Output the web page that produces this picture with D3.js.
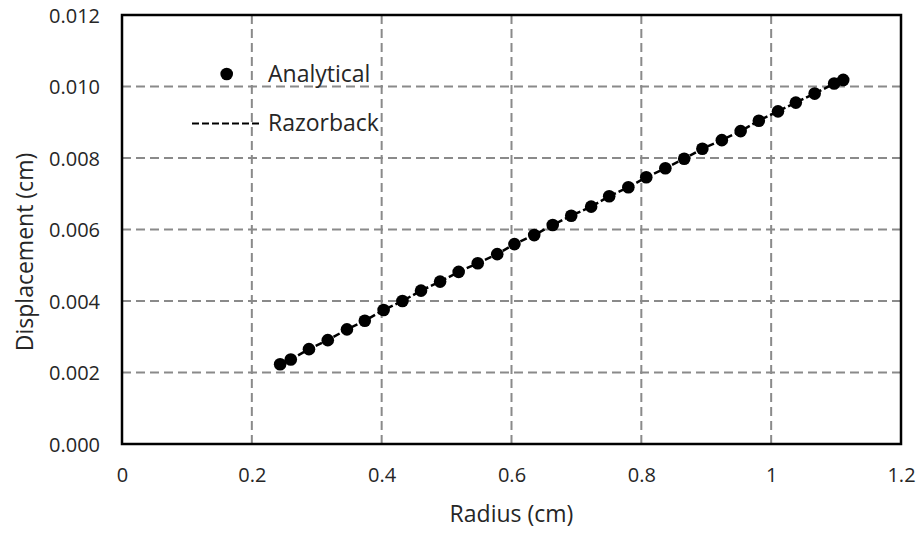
<!DOCTYPE html>
<html>
<head>
<meta charset="utf-8">
<script src="https://cdn.jsdelivr.net/npm/d3@7"></script>
<style>
  html, body { margin: 0; padding: 0; background: #fff; }
  svg { display: block; }
  text { font-family: "Open Sans", sans-serif; fill: #262626; }
</style>
</head>
<body>
<svg id="chart" width="923" height="534"></svg>
<script>
// ---- data ----
const radius = [0.2436, 0.260, 0.288, 0.317, 0.3465, 0.374, 0.403, 0.432, 0.4606, 0.490,
  0.5186, 0.548, 0.578, 0.6045, 0.635, 0.6635, 0.692, 0.7227, 0.7505, 0.780,
  0.8076, 0.837, 0.866, 0.894, 0.924, 0.953, 0.981, 1.0105, 1.038, 1.067, 1.097, 1.111];
const analytical = [0.002232, 0.002363, 0.002653, 0.002905, 0.003206, 0.003447, 0.003747, 0.004000,
  0.004289, 0.004542, 0.004814, 0.005058, 0.005311, 0.005592, 0.005844, 0.006125,
  0.006386, 0.006639, 0.006928, 0.007180, 0.007461, 0.007714, 0.007978, 0.008258,
  0.008500, 0.008752, 0.009044, 0.009305, 0.009550, 0.009802, 0.010083, 0.010184];
const razorback = [0.002232, 0.002363, 0.002653, 0.002905, 0.003206, 0.003447, 0.003747, 0.004000,
  0.004289, 0.004542, 0.004814, 0.005058, 0.005311, 0.005592, 0.005844, 0.006125,
  0.006386, 0.006639, 0.006928, 0.007180, 0.007461, 0.007714, 0.007978, 0.008258,
  0.008500, 0.008752, 0.009044, 0.009305, 0.009550, 0.009802, 0.010083, 0.010184];
const xTicks = [0, 0.2, 0.4, 0.6, 0.8, 1.0, 1.2];
const yTicks = [0, 0.002, 0.004, 0.006, 0.008, 0.010, 0.012];
const seriesNames = ["Analytical", "Razorback"];
const xTitle = "Radius (cm)";
const yTitle = "Displacement (cm)";

// ---- layout ----
const svg = d3.select("#chart");
const L = 122, R = 901, T = 15, B = 444;
const x = d3.scaleLinear().domain([0, 1.2]).range([L, R]);
const y = d3.scaleLinear().domain([0, 0.012]).range([B, T]);

// grid
const grid = svg.append("g");
grid.selectAll("line.v").data(xTicks.slice(1, -1)).enter().append("line")
  .attr("x1", d => x(d)).attr("x2", d => x(d)).attr("y1", T).attr("y2", B)
  .attr("stroke", "#8a8a8a").attr("stroke-width", 2).attr("stroke-dasharray", "9,5");
grid.selectAll("line.h").data(yTicks.slice(1, -1)).enter().append("line")
  .attr("x1", L).attr("x2", R).attr("y1", d => y(d)).attr("y2", d => y(d))
  .attr("stroke", "#8a8a8a").attr("stroke-width", 2).attr("stroke-dasharray", "9,5");

// axes (labels only)
const xAxis = d3.axisBottom(x).tickValues(xTicks).tickSize(0).tickPadding(0)
  .tickFormat(d => d3.format("")(+d.toFixed(1)));
const gx = svg.append("g").attr("transform", `translate(0,${B})`).call(xAxis);
gx.select(".domain").remove();
gx.selectAll("text").attr("font-size", 20).attr("dy", null).attr("y", 38)
  .style("font-family", "'Open Sans', sans-serif").attr("fill", "#262626");

const yAxis = d3.axisLeft(y).tickValues(yTicks).tickSize(0).tickPadding(0)
  .tickFormat(d3.format(".3f"));
const gy = svg.append("g").attr("transform", `translate(${L},0)`).call(yAxis);
gy.select(".domain").remove();
gy.selectAll("text").attr("font-size", 20).attr("x", -22).attr("dy", "0.35em")
  .style("font-family", "'Open Sans', sans-serif").attr("fill", "#262626");

// frame
svg.append("rect").attr("x", L).attr("y", T).attr("width", R - L).attr("height", B - T)
  .attr("fill", "none").attr("stroke", "#000").attr("stroke-width", 2.5);

// razorback line
const line = d3.line().x((d, i) => x(radius[i])).y(d => y(d));
svg.append("path").datum(razorback).attr("d", line)
  .attr("fill", "none").attr("stroke", "#000").attr("stroke-width", 2.5)
  .attr("stroke-dasharray", "7,3");

// analytical points
svg.append("g").selectAll("circle").data(analytical).enter().append("circle")
  .attr("cx", (d, i) => x(radius[i])).attr("cy", d => y(d)).attr("r", 6.3)
  .attr("fill", "#000");

// axis titles
svg.append("text").attr("x", (L + R) / 2).attr("y", 522).attr("text-anchor", "middle")
  .attr("font-size", 23).text(xTitle);
svg.append("text").attr("transform", "translate(33,252) rotate(-90)").attr("text-anchor", "middle")
  .attr("font-size", 23).text(yTitle);

// legend
const lg = svg.append("g");
lg.append("circle").attr("cx", 226.7).attr("cy", 74).attr("r", 6.3).attr("fill", "#000");
lg.append("text").attr("x", 268).attr("y", 82).attr("font-size", 23).text(seriesNames[0]);
lg.append("line").attr("x1", 192).attr("x2", 262).attr("y1", 123.5).attr("y2", 123.5)
  .attr("stroke", "#000").attr("stroke-width", 2).attr("stroke-dasharray", "7,3");
lg.append("text").attr("x", 268).attr("y", 131).attr("font-size", 23).text(seriesNames[1]);
</script>
</body>
</html>
